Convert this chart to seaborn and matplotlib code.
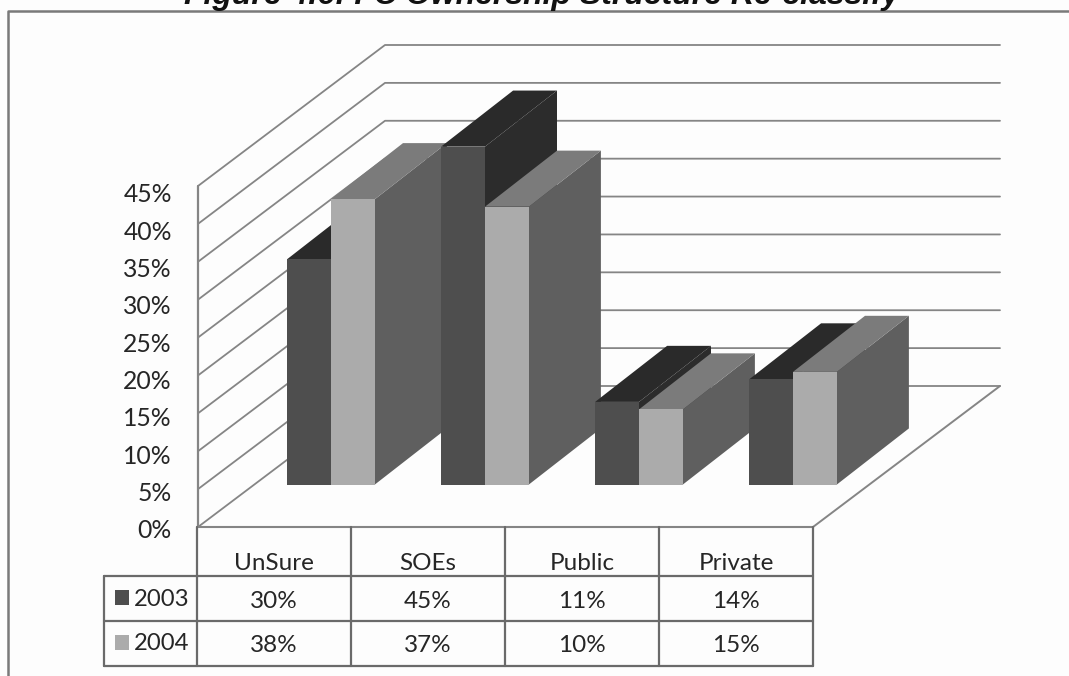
import matplotlib
matplotlib.use("Agg")
import matplotlib.pyplot as plt
import pandas as pd
import seaborn as sns
from matplotlib.patches import Polygon, Rectangle

categories = ["UnSure", "SOEs", "Public", "Private"]
values_2003 = [30, 45, 11, 14]
values_2004 = [38, 37, 10, 15]
series_names = ["2003", "2004"]
axis_ticks = [0, 5, 10, 15, 20, 25, 30, 35, 40, 45]

FRONT = {"2003": "#4e4e4e", "2004": "#ababab"}
TOP = {"2003": "#2a2a2a", "2004": "#7b7b7b"}
SIDE = {"2003": "#2c2c2c", "2004": "#5f5f5f"}
GRID = "#858585"
LINE = "#6a6a6a"
TEXT = "#262626"
FONT = "Lato"

W, H = 1069, 676
sns.set_theme(style="white")
plt.rcParams["font.family"] = [FONT, "DejaVu Sans"]

fig = plt.figure(figsize=(W / 100, H / 100), dpi=100, facecolor="#fdfdfd")


def px_axes(left, top, right, bottom, **kw):
    """Axes placed by pixel edges measured from the top-left of the figure."""
    return fig.add_axes([left / W, 1 - bottom / H, (right - left) / W, (bottom - top) / H], **kw)


# Page layer: frame, title and data table
page = px_axes(0, 0, W, H, zorder=3)
page.set_xlim(0, W)
page.set_ylim(H, 0)
page.axis("off")
page.patch.set_alpha(0)
page.plot([8, 8, W], [H, 11, 11], color="#7a7a7a", lw=1.8, clip_on=False)
page.text(542, 4, "Figure 4.6: FC Ownership Structure Re-classify", ha="center", va="baseline",
          family="Liberation Sans", style="italic", weight="bold", fontsize=23, color="#111111")

col_edges = [197, 351, 505, 659, 813]
row_edges = [527, 576, 621, 666]
table_left = 104
page.plot([col_edges[0], col_edges[-1]], [row_edges[0]] * 2, color=GRID, lw=1.5)
for y in row_edges[1:]:
    page.plot([table_left, col_edges[-1]], [y, y], color=LINE, lw=1.6)
for x in col_edges:
    page.plot([x, x], [row_edges[0], row_edges[-1]], color=LINE, lw=1.6)
page.plot([table_left] * 2, [row_edges[1], row_edges[-1]], color=LINE, lw=1.6)

for i, cat in enumerate(categories):
    cx = (col_edges[i] + col_edges[i + 1]) / 2
    page.text(cx, 563, cat, ha="center", va="center", fontsize=17.5, color=TEXT)
    for row, vals in enumerate([values_2003, values_2004]):
        page.text(cx, (row_edges[row + 1] + row_edges[row + 2]) / 2 + 2.5, f"{vals[i]}%",
                  ha="center", va="center", fontsize=17.5, color=TEXT)
for row, name in enumerate(series_names):
    cy = (row_edges[row + 1] + row_edges[row + 2]) / 2 - 1.5
    page.add_patch(Rectangle((114.5, cy - 7.5), 14, 15, color=FRONT[name], lw=0))
    page.text(134, cy + 2, name, ha="left", va="center", fontsize=17.2, color=TEXT)

# Chart walls: receding gridlines from each value tick
wall_depth_x, wall_depth_y = 187, 141 / (341 / 45)
wall = px_axes(198, 186, 1000, 527, zorder=1)
wall.set_xlim(198, 1000)
wall.set_ylim(0, 45)
wall.axis("off")
for t in axis_ticks:
    wall.plot([198, 198 + wall_depth_x, 1000], [t, t + wall_depth_y, t + wall_depth_y],
              color=GRID, lw=1.3, clip_on=False)
wall.plot([198, 198], [0, 45], color=GRID, lw=1.6, clip_on=False)
wall.plot([1000, 813], [wall_depth_y, 0], color=GRID, lw=1.4, clip_on=False)

# Value labels sit on a slightly tighter scale than the wall itself
labels = px_axes(172, 193, 173, 529, zorder=1)
labels.set_ylim(0, 45)
labels.patch.set_alpha(0)
sns.despine(ax=labels, left=True, bottom=True)
labels.set_xticks([])
labels.set_yticks(axis_ticks, [f"{t}%" for t in axis_ticks], fontsize=17.8, color=TEXT)
labels.tick_params(axis="y", length=0, pad=0)

# Bars: fronts come from seaborn, the extruded faces follow each bar's geometry
df = pd.DataFrame({"Category": categories, "2003": values_2003, "2004": values_2004}).melt(
    id_vars="Category", var_name="Year", value_name="Share")
bars = px_axes(254, 34, 870, 484.5, zorder=2)
bars.patch.set_alpha(0)
sns.barplot(data=df, x="Category", y="Share", hue="Year", order=categories, hue_order=series_names,
            palette=FRONT, width=0.57, gap=0, saturation=1, legend=False, ax=bars)
bars.set_xlim(-0.5, 3.5)
bars.set_ylim(0, 60)
bars.axis("off")

depth_x = 72 / 154
depth_y = 56 / 7.5
for container, name in zip(bars.containers, series_names):
    for k, patch in enumerate(container):
        x0, w, h = patch.get_x(), patch.get_width(), patch.get_height()
        x1 = x0 + w
        base_z = 10 + k * 2 + series_names.index(name) * 0.5
        patch.set_zorder(base_z + 0.3)
        patch.set_edgecolor("none")
        bars.add_patch(Polygon([(x1, 0), (x1 + depth_x, depth_y), (x1 + depth_x, h + depth_y), (x1, h)],
                               closed=True, facecolor=SIDE[name], edgecolor="none",
                               zorder=base_z + 0.1, clip_on=False))
        bars.add_patch(Polygon([(x0, h), (x0 + depth_x, h + depth_y), (x1 + depth_x, h + depth_y), (x1, h)],
                               closed=True, facecolor=TOP[name], edgecolor="none",
                               zorder=base_z + 0.2, clip_on=False))

fig.savefig("out.png", dpi=100, facecolor=fig.get_facecolor())
